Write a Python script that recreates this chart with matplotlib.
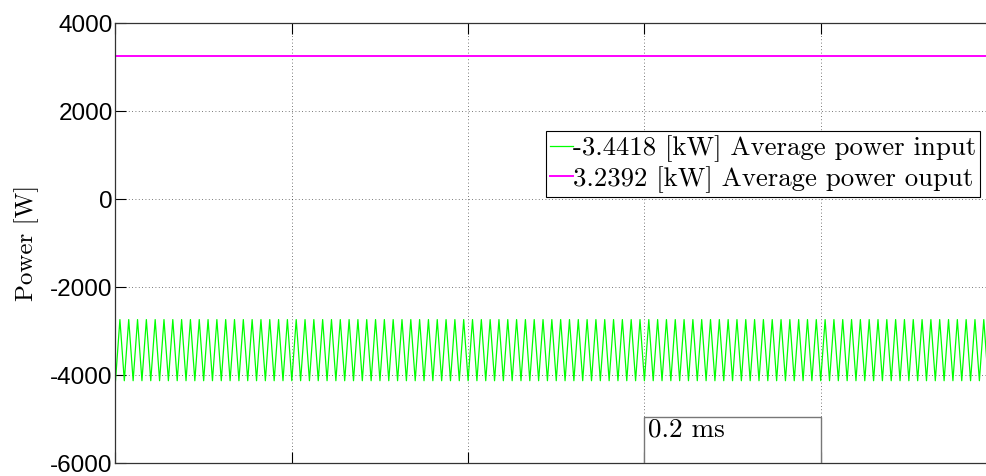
import numpy as np
import matplotlib
matplotlib.use('Agg')
from matplotlib import pyplot as plt
from matplotlib.patches import Rectangle

# power traces (time in ms, power in W)
t_end = 1.0                     # 5 grid divisions of 0.2 ms
n_cycles = 100                  # switching cycles in the window
p_in_cycle = [-4130, -2740]     # one cycle of input power: trough, peak
p_out = 3239.2                  # output power, flat
avg_in_kw = -3.4418
avg_out_kw = 3.2392

y_ticks = [4000, 2000, 0, -2000, -4000, -6000]
x_ticks = [0, 0.2, 0.4, 0.6, 0.8, 1.0]

t = np.linspace(0, t_end, 2 * n_cycles + 1)
p_in = np.resize(p_in_cycle, t.size)

fig = plt.figure(figsize=(9.87, 4.76), dpi=100)
ax = fig.add_axes([115.5 / 987, 13 / 476, 881.5 / 987, 440 / 476])

ax.plot(t, p_in, color=(0, 1, 0), lw=0.9,
        label='%.4f [kW] Average power input' % avg_in_kw)
ax.plot([0, t_end], [p_out, p_out], color=(1, 0, 1), lw=1.4,
        label='%.4f [kW] Average power ouput' % avg_out_kw)

ax.set_xlim(0, t_end)
ax.set_ylim(-6000, 4000)
ax.set_xticks(x_ticks)
ax.set_xticklabels([])
ax.set_yticks(y_ticks)
ax.set_yticklabels([str(v) for v in y_ticks], family='Liberation Sans', fontsize=17.5)
ax.tick_params(direction='in', length=8, width=0.8, top=True, right=True, pad=2)
ax.grid(True, linestyle=(0, (1, 3)), color='k', lw=0.6, alpha=0.7)
for s in ax.spines.values():
    s.set_linewidth(0.9)
    s.set_color('#333333')

ax.set_ylabel('Power [W]', family='cmr10', fontsize=18)
ax.yaxis.set_label_coords(-0.087, 0.5)

leg = ax.legend(loc='upper left', bbox_to_anchor=(545.7 / 987, 1 - 131 / 476),
                bbox_transform=fig.transFigure, frameon=True, fancybox=False,
                prop={'family': 'cmr10', 'size': 19.3}, handlelength=0.85,
                handletextpad=0.0, borderpad=0.15, labelspacing=0.15,
                borderaxespad=0)
leg.get_frame().set_edgecolor('k')
leg.get_frame().set_linewidth(0.8)
leg.get_frame().set_alpha(1)

# time scale box
ax.add_patch(Rectangle((0.6, -6000), 0.2, 1050, facecolor='white',
                       edgecolor='#777777', lw=1.0, zorder=5))
ax.text(0.604, -4975, '0.2 ms', family='cmr10', fontsize=19.5, va='top', ha='left', zorder=6)

fig.savefig('out.png', dpi=100)
